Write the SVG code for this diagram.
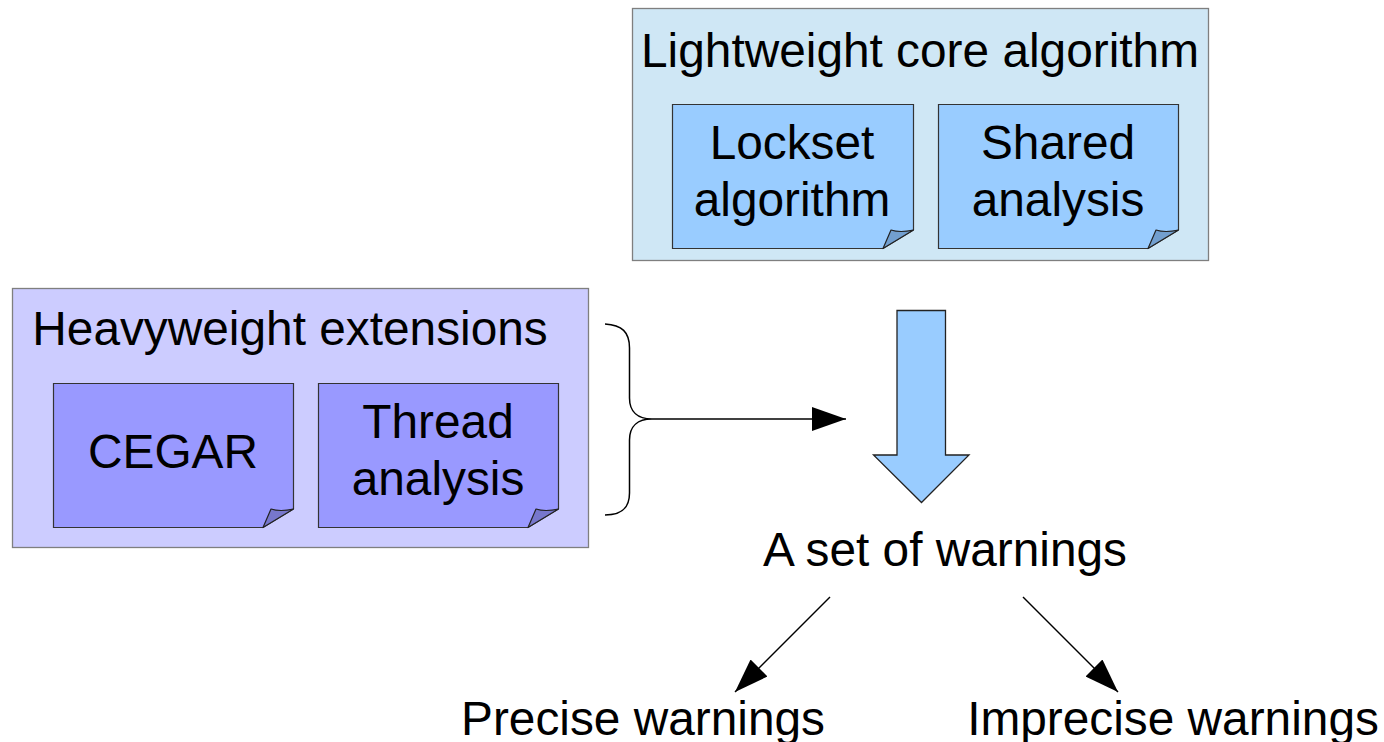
<svg xmlns="http://www.w3.org/2000/svg" width="1384" height="742" viewBox="0 0 1384 742">
  <style>
    text { font-family: "Liberation Sans", Arial, sans-serif; font-size: 47.8px; fill: #000; text-anchor: middle; }
    .frame { stroke: #7f7f7f; stroke-width: 1.3; }
    .note { stroke: #333; stroke-width: 1.2; }
    .fold { stroke: #222; stroke-width: 1.2; stroke-linejoin: round; }
    .line { fill: none; stroke: #000; stroke-width: 1.5; }
  </style>
  <defs>
    <marker id="head" viewBox="0 0 34 24" refX="34" refY="12" markerWidth="34" markerHeight="24" markerUnits="userSpaceOnUse" orient="auto">
      <path d="M0,0 L34,12 L0,24 Z" fill="#000"/>
    </marker>
  </defs>

  <rect width="1384" height="742" fill="#fff"/>

  <!-- Lightweight core algorithm -->
  <g id="core">
    <rect class="frame" x="632.5" y="8.5" width="576" height="252" fill="#cfe7f5"/>
    <text x="920" y="67">Lightweight core algorithm</text>
  </g>
  <g id="lockset">
    <path class="note" d="M672.5,104.5 H913.5 V230 L883,248.5 H672.5 Z" fill="#99ccff"/>
    <path class="fold" d="M883,248.5 L891,230 Q900,233 913.5,230 Z" fill="#729fcf"/>
    <text x="792" y="159">Lockset</text>
    <text x="792" y="216">algorithm</text>
  </g>
  <g id="shared">
    <path class="note" d="M938.5,104.5 H1178.5 V230 L1148,248.5 H938.5 Z" fill="#99ccff"/>
    <path class="fold" d="M1148,248.5 L1156,230 Q1165,233 1178.5,230 Z" fill="#729fcf"/>
    <text x="1058" y="159">Shared</text>
    <text x="1058" y="216">analysis</text>
  </g>

  <!-- Heavyweight extensions -->
  <g id="heavy">
    <rect class="frame" x="12.5" y="288.5" width="576" height="259" fill="#ccccff"/>
    <text x="290" y="345">Heavyweight extensions</text>
  </g>
  <g id="cegar">
    <path class="note" d="M53.5,383.5 H293.5 V509 L263,527.5 H53.5 Z" fill="#9999ff"/>
    <path class="fold" d="M263,527.5 L271,509 Q280,512 293.5,509 Z" fill="#7777cc"/>
    <text x="173" y="468">CEGAR</text>
  </g>
  <g id="thread">
    <path class="note" d="M318.5,383.5 H558.5 V509 L528,527.5 H318.5 Z" fill="#9999ff"/>
    <path class="fold" d="M528,527.5 L536,509 Q545,512 558.5,509 Z" fill="#7777cc"/>
    <text x="438" y="438">Thread</text>
    <text x="438" y="495">analysis</text>
  </g>

  <!-- Result labels -->
  <g id="warnings">
    <text x="945" y="566">A set of warnings</text>
  </g>
  <g id="precise">
    <text x="643" y="735">Precise warnings</text>
  </g>
  <g id="imprecise">
    <text x="1173" y="735">Imprecise warnings</text>
  </g>

  <!-- Connectors -->
  <g id="connectors">
    <path class="line" d="M605,324 C622,325 629.5,332 629.5,348 V398 C629.5,412 638,419 652,419 C638,419 629.5,426 629.5,440 V493 C629.5,508 622,515 605,515"/>
    <path class="line" d="M652,419 H846" marker-end="url(#head)"/>
    <path d="M897,310.5 H945.5 V455 H969 L921.5,502.5 L873.5,455 H897 Z" fill="#99ccff" stroke="#222" stroke-width="1.3" stroke-linejoin="miter"/>
    <path class="line" d="M830,597 L735,692" marker-end="url(#head)"/>
    <path class="line" d="M1023,597 L1118,692" marker-end="url(#head)"/>
  </g>
</svg>
